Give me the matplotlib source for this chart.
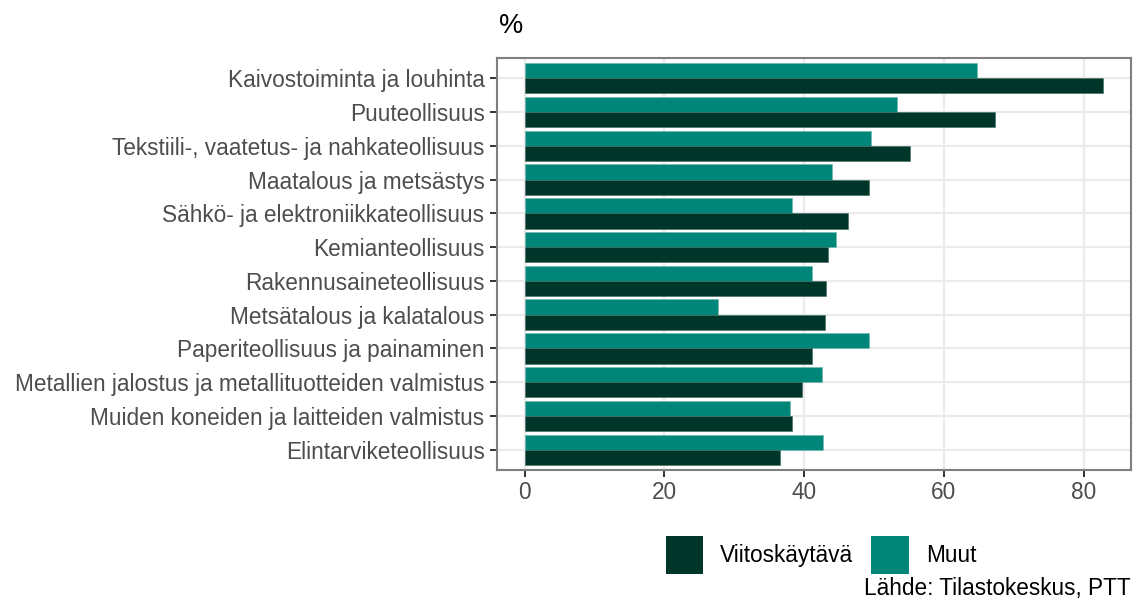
import matplotlib
matplotlib.use('Agg')
import matplotlib.pyplot as plt
from matplotlib.patches import Patch
import numpy as np

plt.rcParams['font.family'] = ['Liberation Sans', 'DejaVu Sans']

categories = [
    'Kaivostoiminta ja louhinta',
    'Puuteollisuus',
    'Tekstiili-, vaatetus- ja nahkateollisuus',
    'Maatalous ja metsästys',
    'Sähkö- ja elektroniikkateollisuus',
    'Kemianteollisuus',
    'Rakennusaineteollisuus',
    'Metsätalous ja kalatalous',
    'Paperiteollisuus ja painaminen',
    'Metallien jalostus ja metallituotteiden valmistus',
    'Muiden koneiden ja laitteiden valmistus',
    'Elintarviketeollisuus',
]
viitoskaytava = [82.8, 67.3, 55.1, 49.3, 46.2, 43.4, 43.1, 43.0, 41.1, 39.7, 38.3, 36.5]
muut = [64.7, 53.3, 49.5, 44.0, 38.3, 44.6, 41.1, 27.6, 49.3, 42.5, 37.9, 42.7]
xticks = [0, 20, 40, 60, 80]

dark = '#003629'
teal = '#008579'
fs = 16.3

fig = plt.figure(figsize=(11.36, 6.1), dpi=100, facecolor='white')
ax = fig.add_axes([497 / 1136, 1 - 470 / 610, (1131 - 497) / 1136, (470 - 58) / 610])

y = np.arange(len(categories))
h = 0.45
ax.barh(y - h / 2, muut, height=h, color=teal, edgecolor='#6fb8b0', linewidth=0.4, zorder=3)
ax.barh(y + h / 2, viitoskaytava, height=h, color=dark, edgecolor='#3c6a60', linewidth=0.4, zorder=3)

xmax = max(max(viitoskaytava), max(muut))
ax.set_xlim(-0.048 * xmax, 1.048 * xmax)
ax.set_ylim(len(categories) - 0.4, -0.6)

ax.set_yticks(y)
ax.set_yticklabels(categories)
ax.set_xticks(xticks)
ax.set_xticklabels([str(v) for v in xticks])
ax.tick_params(axis='both', colors='#333333', labelcolor='#4d4d4d', labelsize=fs,
               length=5, width=1.4)
ax.tick_params(axis='y', pad=4)
ax.tick_params(axis='x', pad=3)

ax.grid(True, color='#ebebeb', linewidth=1.6, zorder=0)
ax.set_axisbelow(True)
for s in ax.spines.values():
    s.set_color('#7f7f7f')
    s.set_linewidth(1.5)

fig.text(511 / 1136, 1 - 26 / 610, '%', ha='center', va='center', fontsize=19.5, color='black')

handles = [Patch(facecolor=dark, edgecolor='none', label='Viitoskäytävä'),
           Patch(facecolor=teal, edgecolor='none', label='Muut')]
fig.legend(handles=handles, loc='center', bbox_to_anchor=(821 / 1136, 1 - 555 / 610),
           ncol=2, frameon=False, fontsize=fs, handlelength=1.65, handleheight=2.2,
           handletextpad=0.75, columnspacing=0.8, borderpad=0, borderaxespad=0)

fig.text(1131 / 1136, 1 - 588 / 610, 'Lähde: Tilastokeskus, PTT', ha='right', va='center',
         fontsize=fs, color='black')

fig.savefig('out.png', dpi=100, facecolor='white')
